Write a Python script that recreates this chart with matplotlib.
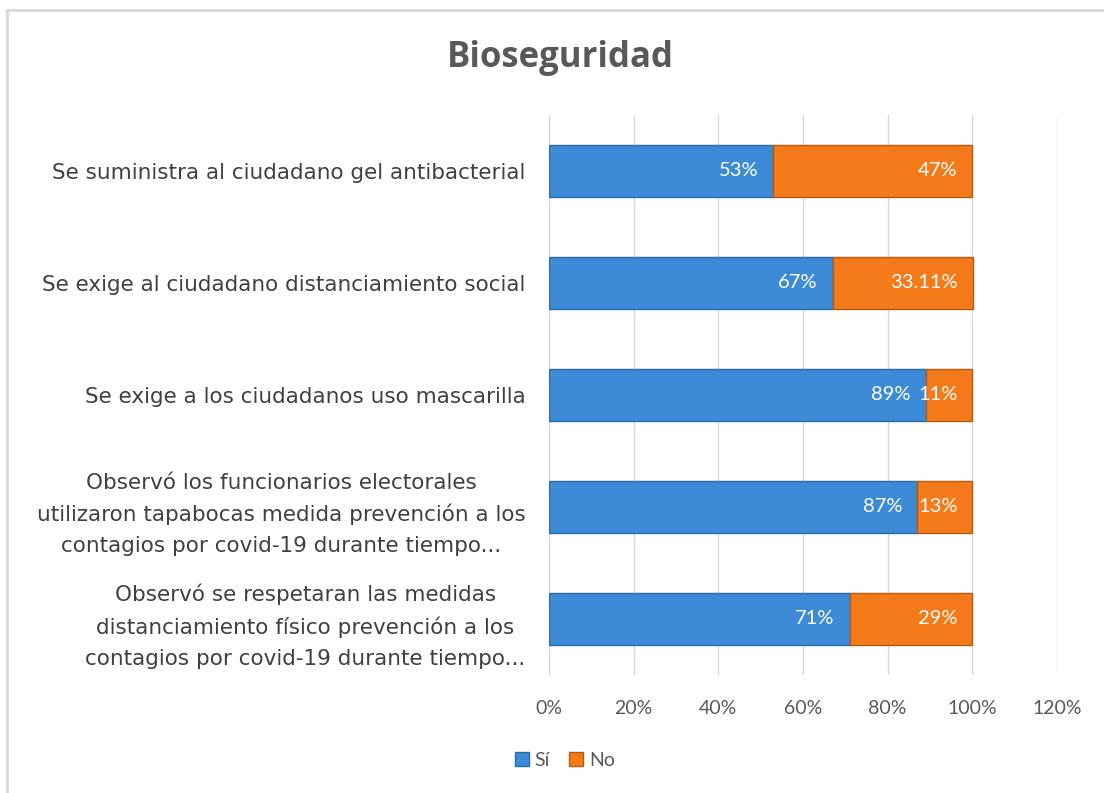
import matplotlib
matplotlib.use("Agg")
import matplotlib.pyplot as plt
from matplotlib.patches import Rectangle
from matplotlib.ticker import FuncFormatter

# datos
categorias = [
    "Se suministra al ciudadano gel antibacterial",
    "Se exige al ciudadano distanciamiento social",
    "Se exige a los ciudadanos uso mascarilla",
    "Observó los funcionarios electorales\nutilizaron tapabocas medida prevención a los\ncontagios por covid-19 durante tiempo...",
    "Observó se respetaran las medidas\ndistanciamiento físico prevención a los\ncontagios por covid-19 durante tiempo...",
]
si = [53, 67, 89, 87, 71]
no = [47, 33.11, 11, 13, 29]
etiquetas_si = ["53%", "67%", "89%", "87%", "71%"]
etiquetas_no = ["47%", "33.11%", "11%", "13%", "29%"]
ticks = [0, 20, 40, 60, 80, 100, 120]

AZUL = "#3d8bd6"
AZUL_BORDE = "#2a6aa8"
NARANJA = "#f47a1a"
NARANJA_BORDE = "#b85a12"
GRIS = "#595959"
TEXTO = "#404040"

fig = plt.figure(figsize=(11.04, 7.93), dpi=100)
fig.patch.set_facecolor("white")

# marco del gráfico (recortado a la derecha y abajo)
fig.patches.append(Rectangle((7 / 1104, -0.05), 1.1, 1 - 10 / 793 + 0.05,
                             transform=fig.transFigure, fill=False,
                             edgecolor="#d9d9d9", linewidth=2))

ax = fig.add_axes([549 / 1104, 1 - 675 / 793, (1057 - 549) / 1104, (675 - 115) / 793])

y = list(range(len(categorias)))
b1 = ax.barh(y, si, height=0.46, color=AZUL, edgecolor=AZUL_BORDE,
             linewidth=1, zorder=3)
b2 = ax.barh(y, no, left=si, height=0.46, color=NARANJA,
             edgecolor=NARANJA_BORDE, linewidth=1, zorder=3)

for i in y:
    ax.text(si[i] - 3.5, i, etiquetas_si[i], ha="right", va="center",
            color="white", fontsize=14.5, family="Lato", zorder=4)
    ax.text(si[i] + no[i] - 3.5, i, etiquetas_no[i], ha="right", va="center",
            color="white", fontsize=14.5, family="Lato", zorder=4)

ax.set_xlim(0, 120)
ax.set_ylim(len(categorias) - 0.5, -0.5)
ax.set_xticks(ticks)
ax.xaxis.set_major_formatter(FuncFormatter(lambda v, p: f"{v:.0f}%"))
ax.set_yticks(y)
ax.set_yticklabels(categorias, multialignment="center", linespacing=1.65)
ax.grid(axis="x", color="#d9d9d9", linewidth=1, zorder=0)
ax.spines[:].set_visible(False)
ax.tick_params(axis="x", length=0, pad=18, labelsize=14, labelcolor=GRIS)
ax.tick_params(axis="y", length=0, pad=17, labelsize=15.5, labelcolor=TEXTO)
for t in ax.get_xticklabels():
    t.set_family("Lato")
for t in ax.get_yticklabels():
    t.set_family("DejaVu Sans")

fig.text(560 / 1104, 1 - 58 / 793, "Bioseguridad", ha="center", va="center",
         fontsize=25, fontweight="bold", color=GRIS, family="Open Sans")

leg = fig.legend([b1, b2], ["Sí", "No"], loc="center",
                 bbox_to_anchor=(565 / 1104, 1 - 760 / 793), ncol=2,
                 frameon=False, handlelength=0.7, handleheight=0.7,
                 handletextpad=0.3, columnspacing=1.0,
                 prop={"family": "Lato", "size": 14})
for t in leg.get_texts():
    t.set_color(GRIS)

fig.savefig("out.png", dpi=100, facecolor="white")
